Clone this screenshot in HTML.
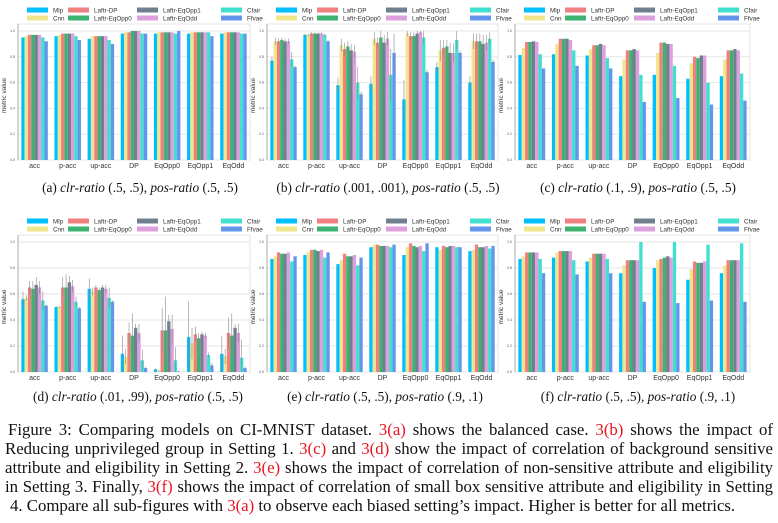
<!DOCTYPE html>
<html><head><meta charset="utf-8">
<style>
html,body{margin:0;padding:0;background:#fff;width:778px;height:523px;overflow:hidden;position:relative}
svg{position:absolute;left:0;top:0}
.cap{position:absolute;font-family:"Liberation Serif",serif;font-size:13.3px;color:#111;white-space:nowrap;transform:translateX(-50%)}
.cap i{font-style:italic}
.fig{position:absolute;left:5px;width:768px;font-family:"Liberation Serif",serif;font-size:16.8px;color:#111;white-space:nowrap;text-align:justify;text-align-last:justify;line-height:19px}
.r{color:#e8141e}
</style></head><body>
<svg id="chart" width="778" height="523"></svg>
<div class="cap" style="left:140px;top:180px">(a) <i>clr-ratio</i> (.5, .5), <i>pos-ratio</i> (.5, .5)</div>
<div class="cap" style="left:388px;top:180px">(b) <i>clr-ratio</i> (.001, .001), <i>pos-ratio</i> (.5, .5)</div>
<div class="cap" style="left:638px;top:180px">(c) <i>clr-ratio</i> (.1, .9), <i>pos-ratio</i> (.5, .5)</div>
<div class="cap" style="left:138px;top:389px">(d) <i>clr-ratio</i> (.01, .99), <i>pos-ratio</i> (.5, .5)</div>
<div class="cap" style="left:385px;top:389px">(e) <i>clr-ratio</i> (.5, .5), <i>pos-ratio</i> (.9, .1)</div>
<div class="cap" style="left:638px;top:389px">(f) <i>clr-ratio</i> (.5, .5), <i>pos-ratio</i> (.9, .1)</div>
<div class="fig" style="top:420px;left:8px;width:765px">Figure 3: Comparing models on CI-MNIST dataset. <span class="r">3(a)</span> shows the balanced case. <span class="r">3(b)</span> shows the impact of</div>
<div class="fig" style="top:439px">Reducing unprivileged group in Setting 1. <span class="r">3(c)</span> and <span class="r">3(d)</span> show the impact of correlation of background sensitive</div>
<div class="fig" style="top:458px">attribute and eligibility in Setting 2. <span class="r">3(e)</span> shows the impact of correlation of non-sensitive attribute and eligibility</div>
<div class="fig" style="top:477px">in Setting 3. Finally, <span class="r">3(f)</span> shows the impact of correlation of small box sensitive attribute and eligibility in Setting</div>
<div class="fig" style="top:496px;left:10px;text-align-last:left">4. Compare all sub-figures with <span class="r">3(a)</span> to observe each biased setting’s impact. Higher is better for all metrics.</div>
<script>
const categories=["acc","p-acc","up-acc","DP","EqOpp0","EqOpp1","EqOdd"];
const seriesNames=["Mlp","Cnn","Laftr-DP","Laftr-EqOpp0","Laftr-EqOpp1","Laftr-EqOdd","Cfair","Ffvae"];
const seriesColors=["#00bfff","#f0e68c","#f08080","#3cb371","#708090","#dda0dd","#40e0d0","#6495ed"];
const yTicks=["0.0","0.2","0.4","0.6","0.8","1.0"];
const valuesA=[[.95,.96,.97,.97,.97,.97,.95,.92],[.96,.97,.98,.98,.98,.98,.96,.93],[.94,.96,.96,.96,.96,.96,.93,.90],[.98,.99,.99,1.0,1.0,1.0,.98,.98],[.98,.99,.99,.99,.99,.99,.98,1.0],[.98,.99,.99,.99,.99,.99,.99,.96],[.98,.99,.99,.99,.99,.99,.98,.98]];
const valuesB=[[.77,.92,.92,.93,.92,.92,.78,.72],[.97,.97,.98,.98,.98,.98,.97,.92],[.58,.89,.86,.88,.85,.84,.60,.51],[.59,.94,.91,.95,.91,.94,.66,.83],[.47,.98,.96,.96,.98,.99,.95,.68],[.72,.85,.87,.88,.83,.83,.93,.83],[.60,.92,.92,.92,.90,.91,.94,.76]];
const valuesC=[[.815,.87,.915,.915,.92,.915,.82,.71],[.82,.90,.94,.94,.94,.93,.85,.73],[.81,.86,.89,.89,.90,.89,.79,.71],[.65,.78,.85,.85,.86,.85,.66,.45],[.66,.83,.91,.91,.90,.90,.73,.48],[.63,.75,.80,.79,.81,.81,.60,.43],[.65,.78,.85,.85,.86,.85,.67,.46]];
const valuesD=[[.56,.57,.65,.64,.67,.65,.55,.51],[.50,.50,.65,.65,.69,.66,.54,.49],[.64,.62,.65,.63,.65,.64,.57,.54],[.14,.12,.30,.28,.34,.30,.09,.03],[.02,.01,.32,.32,.39,.33,.09,.003],[.27,.22,.29,.26,.29,.28,.13,.05],[.14,.12,.30,.28,.34,.30,.11,.03]];
const valuesE=[[.87,.89,.92,.91,.91,.92,.85,.89],[.90,.92,.94,.94,.93,.94,.88,.92],[.83,.86,.91,.89,.89,.90,.82,.88],[.96,.98,.98,.97,.97,.97,.96,.98],[.90,.96,.99,.97,.96,.97,.93,.99],[.96,.94,.97,.96,.97,.97,.96,.96],[.93,.94,.98,.96,.96,.97,.95,.97]];
const valuesF=[[.87,.89,.92,.92,.92,.92,.87,.76],[.88,.92,.93,.93,.93,.93,.86,.75],[.85,.88,.91,.91,.91,.91,.87,.76],[.76,.82,.86,.86,.86,.86,1.0,.54],[.80,.86,.87,.88,.89,.88,1.0,.53],[.71,.79,.85,.84,.84,.85,.98,.55],[.76,.82,.86,.86,.86,.86,.99,.54]];
const errB=[[.03,.03,.02,.02,.02,.02,.06,.01],[.01,.01,.01,.01,.01,.01,.01,.01],[.06,.05,.05,.04,.05,.05,.12,.02],[.06,.05,.04,.05,.06,.05,.20,.15],[.15,.02,.03,.03,.02,.01,.05,.02],[.04,.08,.06,.05,.08,.07,.07,.02],[.05,.06,.06,.06,.07,.06,.05,.02]];
const errD=[[.06,.02,.05,.06,.06,.05,.07,.01],[.01,.01,.08,.10,.05,.05,.04,.01],[.08,.03,.02,.02,.02,.03,.08,.01],[.14,.06,.08,.17,.03,.07,.08,.01],[.01,.01,.17,.26,.05,.11,.10,.01],[.27,.12,.06,.04,.02,.02,.02,.02],[.14,.06,.12,.17,.03,.07,.14,.01]];
const panels=[
 {id:"a",vals:valuesA,err:null,x0:18,x1:250,top:24,y1:31,y0:160},
 {id:"b",vals:valuesB,err:errB,x0:267,x1:498,top:24,y1:31,y0:160},
 {id:"c",vals:valuesC,err:null,x0:515,x1:750,top:24,y1:31,y0:160},
 {id:"d",vals:valuesD,err:errD,x0:18,x1:250,top:235,y1:242,y0:372},
 {id:"e",vals:valuesE,err:null,x0:267,x1:498,top:235,y1:242,y0:372},
 {id:"f",vals:valuesF,err:null,x0:515,x1:750,top:235,y1:242,y0:372}];
const NS="http://www.w3.org/2000/svg";
const svg=document.getElementById("chart");
function mk(tag,attrs,parent){const e=document.createElementNS(NS,tag);for(const k in attrs)e.setAttribute(k,attrs[k]);(parent||svg).appendChild(e);return e;}
const legOff=[9,50,119,203];
panels.forEach(p=>{
 const g=mk("g",{});
 
 
 const yS=v=>p.y0-v*(p.y0-p.y1);
 const gw=(p.x1-p.x0)/categories.length;
 const xC=i=>p.x0+(i+0.5)*gw;
 const bw=gw*0.8/seriesNames.length;
 const box=mk("rect",{x:p.x0,y:p.top,width:p.x1-p.x0,height:p.y0-p.top,fill:"#fff",stroke:"#e4e4e4","stroke-width":1},g);
 
 
 yTicks.forEach(t=>{
  const y=yS(parseFloat(t));
  mk("line",{x1:p.x0,x2:p.x1,y1:y,y2:y,stroke:"#e6e6e6","stroke-width":1},g);
  const tl=mk("text",{x:p.x0-3,y:y+1,"font-size":3.5,"text-anchor":"end",fill:"#555","font-family":"Liberation Sans, sans-serif"},g);
  tl.textContent=t;
  
  
 });
 mk("line",{x1:p.x0,x2:p.x0,y1:p.top,y2:p.y0,stroke:"#999","stroke-width":0.8},g);
 const yl=mk("text",{x:0,y:0,transform:`translate(${p.x0-12},${(p.y0+p.y1)/2}) rotate(-90)`,"font-size":6.5,"text-anchor":"middle",fill:"#333","font-family":"Liberation Sans, sans-serif"},g);
 yl.textContent="metric value";
 
 
 categories.forEach((c,i)=>{
  seriesNames.forEach((s,j)=>{
   const v=p.vals[i][j];
   const x=xC(i)-gw*0.4+j*bw;
   const r=mk("rect",{x:x,y:yS(v),width:bw,height:p.y0-yS(v),fill:seriesColors[j]},g);
   
   
   if(p.err){const e=p.err[i][j];mk("line",{x1:x+bw/2,x2:x+bw/2,y1:yS(Math.min(v+e,1.05)),y2:yS(Math.max(v-e,0)),stroke:"#888","stroke-width":0.6},g);}
  });
  const xl=mk("text",{x:xC(i),y:p.y0+8,"font-size":7,"text-anchor":"middle",fill:"#333","font-family":"Liberation Sans, sans-serif"},g);
  xl.textContent=c;
  
  
 });
 seriesNames.forEach((s,j)=>{
  const col=Math.floor(j/2),row=j%2;
  const lx=p.x0+legOff[col], ly=p.top-14+row*8;
  const sw=mk("rect",{x:lx,y:ly-2.5,width:21,height:5,fill:seriesColors[j]},g);
  
  
  const t=mk("text",{x:lx+26,y:ly+2.3,"font-size":6.3,fill:"#333","font-family":"Liberation Sans, sans-serif"},g);
  t.textContent=s;
  
  
 });
});
</script>
</body></html>
